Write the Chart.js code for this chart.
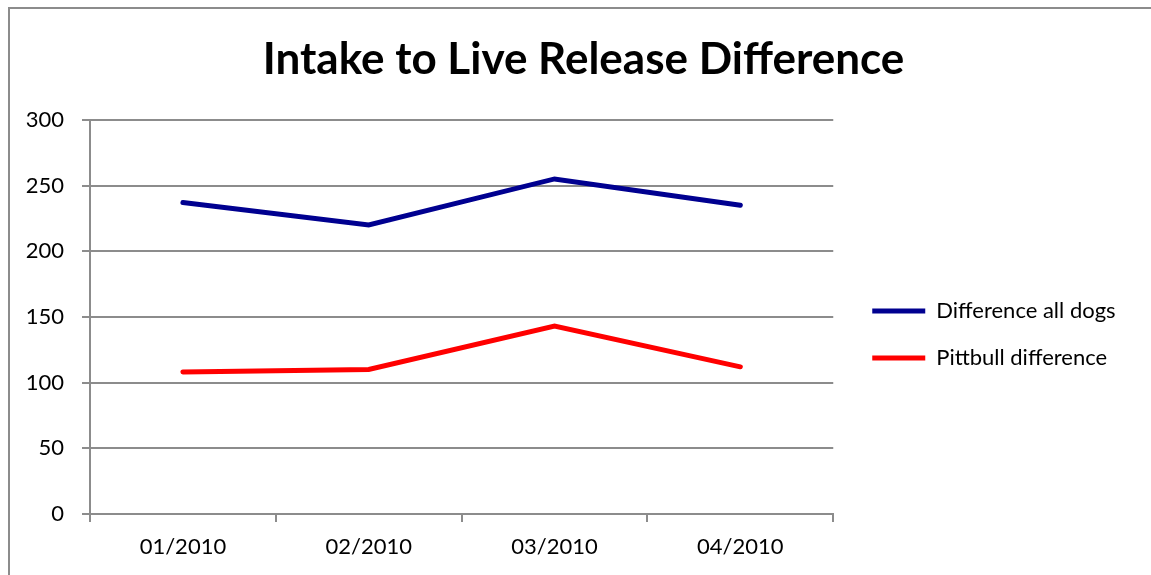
<!DOCTYPE html>
<html>
<head>
<meta charset="utf-8">
<script src="https://cdn.jsdelivr.net/npm/chart.js@4"></script>
<style>
    body { margin: 0; background: #fff; overflow: hidden; }
    #moldura {
        position: absolute; left: 8px; top: 7px;
        width: 1300px; height: 700px;
        border-left: 2px solid #8c8c8c; border-top: 2px solid #8c8c8c;
    }
    #caixa { position: absolute; left: 0; top: 0; width: 1151px; height: 575px; }
</style>
</head>
<body>
<div id="moldura"></div>
<div id="caixa"><canvas id="grafico-diferenca"></canvas></div>
<script>
const canvasDiferenca = document.getElementById('grafico-diferenca');

var meses = ['01/2010', '02/2010', '03/2010', '04/2010'];
var difTodosCaes = [237, 220, 255, 235];
var difPitbull = [108, 110, 143, 112];
var ticksY = [0, 50, 100, 150, 200, 250, 300];

const corGrade = '#8c8c8c';
const fonte = 'Lato';

// desloca legenda e titulo depois do layout, sem mexer na area do grafico
const ajusteCaixas = {
    id: 'ajusteCaixas',
    afterLayout: function (chart) {
        var legenda = chart.legend;
        legenda.left += 14; legenda.right += 14;
        legenda.top += 47; legenda.bottom += 47;
        var titulo = chart.titleBlock;
        titulo.left += 28; titulo.right += 28;
    }
};

const graficoDiferenca = new Chart(canvasDiferenca, {
    type: 'line',
    data: {
        labels: meses,
        datasets: [{
            label: 'Difference all dogs',
            data: difTodosCaes,
            borderColor: '#000090',
            backgroundColor: '#000090',
            borderWidth: 5,
            borderCapStyle: 'round',
            pointRadius: 0,
            tension: 0
        }, {
            label: 'Pittbull difference',
            data: difPitbull,
            borderColor: '#ff0000',
            backgroundColor: '#ff0000',
            borderWidth: 5,
            borderCapStyle: 'round',
            pointRadius: 0,
            tension: 0
        }]
    },
    options: {
        responsive: true,
        maintainAspectRatio: false,
        animation: false,
        layout: { padding: { left: 0, right: 40, top: 0, bottom: 0 } },
        plugins: {
            title: {
                display: true,
                text: 'Intake to Live Release Difference',
                color: '#000',
                font: { family: fonte, size: 44, weight: 'bold' },
                padding: { top: 33, bottom: 34 }
            },
            legend: {
                position: 'right',
                labels: {
                    color: '#000',
                    font: { family: fonte, size: 22 },
                    usePointStyle: true,
                    pointStyle: 'line',
                    pointStyleWidth: 53,
                    padding: 25
                }
            },
            tooltip: { enabled: false }
        },
        scales: {
            x: {
                offset: true,
                grid: {
                    offset: true,
                    drawOnChartArea: false,
                    tickLength: 8,
                    color: corGrade,
                    lineWidth: 2
                },
                border: { color: corGrade, width: 2 },
                ticks: {
                    color: '#000',
                    font: { family: fonte, size: 22 },
                    padding: 12
                },
                afterFit: function (escala) { escala.height = 61; }
            },
            y: {
                min: 0,
                max: 300,
                afterBuildTicks: function (escala) {
                    escala.ticks = ticksY.map(v => ({ value: v }));
                },
                grid: {
                    tickLength: 8,
                    color: corGrade,
                    lineWidth: 2
                },
                border: { color: corGrade, width: 2 },
                ticks: {
                    color: '#000',
                    font: { family: fonte, size: 22 },
                    padding: 18
                },
                afterFit: function (escala) { escala.width = 90; }
            }
        }
    },
    plugins: [ajusteCaixas]
});
</script>
</body>
</html>
